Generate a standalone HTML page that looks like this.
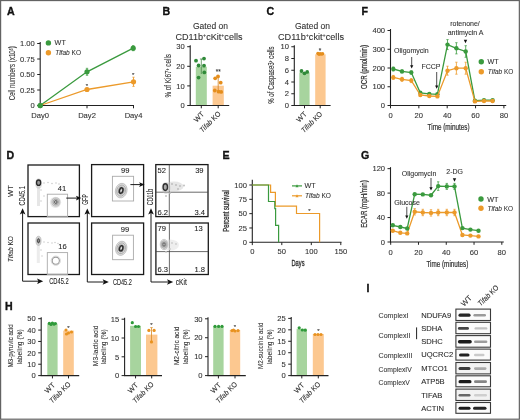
<!DOCTYPE html>
<html><head><meta charset="utf-8"><style>
html,body{margin:0;padding:0;background:#fff;}
#fig{position:relative;width:520px;height:420px;overflow:hidden;background:#fff;}
#fig svg{position:absolute;left:0;top:0;}
#plot{filter:blur(0.3px);}
text{font-family:"Liberation Sans",sans-serif;stroke:#2a2a2a;stroke-width:0.09px;}
</style></head><body><div id="fig">
<svg id="plot" width="520" height="420" viewBox="0 0 520 420">
<text x="6.9" y="15.3" font-size="10.6" text-anchor="start" fill="#111" font-weight="bold"  style="stroke:#111;stroke-width:0.35px">A</text>
<text x="162.6" y="15.3" font-size="10.6" text-anchor="start" fill="#111" font-weight="bold"  style="stroke:#111;stroke-width:0.35px">B</text>
<text x="266.6" y="15.3" font-size="10.6" text-anchor="start" fill="#111" font-weight="bold"  style="stroke:#111;stroke-width:0.35px">C</text>
<text x="361.6" y="15.3" font-size="10.6" text-anchor="start" fill="#111" font-weight="bold"  style="stroke:#111;stroke-width:0.35px">F</text>
<text x="6.4" y="158.6" font-size="10.6" text-anchor="start" fill="#111" font-weight="bold"  style="stroke:#111;stroke-width:0.35px">D</text>
<text x="222.4" y="158.8" font-size="10.6" text-anchor="start" fill="#111" font-weight="bold"  style="stroke:#111;stroke-width:0.35px">E</text>
<text x="361.1" y="158.8" font-size="10.6" text-anchor="start" fill="#111" font-weight="bold"  style="stroke:#111;stroke-width:0.35px">G</text>
<text x="5.0" y="309.6" font-size="10.6" text-anchor="start" fill="#111" font-weight="bold"  style="stroke:#111;stroke-width:0.35px">H</text>
<text x="366.4" y="292.0" font-size="10.6" text-anchor="start" fill="#111" font-weight="bold"  style="stroke:#111;stroke-width:0.35px">I</text>
<line x1="40.2" y1="42.0" x2="40.2" y2="106.0" stroke="#222" stroke-width="1.1" />
<line x1="37.2" y1="43.5" x2="40.2" y2="43.5" stroke="#222" stroke-width="1" />
<text x="34.800000000000004" y="46.236" font-size="7.6" text-anchor="end" fill="#333" font-weight="normal"  style="">1.00</text>
<line x1="37.2" y1="59.0" x2="40.2" y2="59.0" stroke="#222" stroke-width="1" />
<text x="34.800000000000004" y="61.736" font-size="7.6" text-anchor="end" fill="#333" font-weight="normal"  style="">0.75</text>
<line x1="37.2" y1="74.5" x2="40.2" y2="74.5" stroke="#222" stroke-width="1" />
<text x="34.800000000000004" y="77.236" font-size="7.6" text-anchor="end" fill="#333" font-weight="normal"  style="">0.50</text>
<line x1="37.2" y1="90.0" x2="40.2" y2="90.0" stroke="#222" stroke-width="1" />
<text x="34.800000000000004" y="92.736" font-size="7.6" text-anchor="end" fill="#333" font-weight="normal"  style="">0.25</text>
<line x1="37.2" y1="105.5" x2="40.2" y2="105.5" stroke="#222" stroke-width="1" />
<text x="34.800000000000004" y="108.236" font-size="7.6" text-anchor="end" fill="#333" font-weight="normal"  style="">0</text>
<line x1="39.7" y1="105.5" x2="134" y2="105.5" stroke="#222" stroke-width="1.1" />
<line x1="40.2" y1="105.5" x2="40.2" y2="108.3" stroke="#222" stroke-width="1" />
<text x="40.2" y="118.2" font-size="7.6" text-anchor="middle" fill="#333" font-weight="normal"  style="">Day0</text>
<line x1="87" y1="105.5" x2="87" y2="108.3" stroke="#222" stroke-width="1" />
<text x="87" y="118.2" font-size="7.6" text-anchor="middle" fill="#333" font-weight="normal"  style="">Day2</text>
<line x1="133.5" y1="105.5" x2="133.5" y2="108.3" stroke="#222" stroke-width="1" />
<text x="133.5" y="118.2" font-size="7.6" text-anchor="middle" fill="#333" font-weight="normal"  style="">Day4</text>
<text transform="translate(11.9,73.3) rotate(-90)" x="0" y="2.95" font-size="8.2" text-anchor="middle" fill="#333" textLength="54" lengthAdjust="spacingAndGlyphs" style="">Cell numbers (x10<tspan dy="-2" font-size="4.5">6</tspan><tspan dy="2">)</tspan></text>
<path d="M40.2,105.5 L87,71.8 L133.2,48.2" stroke="#3a9a3e" stroke-width="1.3" fill="none" />
<path d="M40.2,105.5 L87,89.5 L133.5,81.8" stroke="#ec9a2a" stroke-width="1.3" fill="none" />
<line x1="87" y1="68.3" x2="87" y2="75.3" stroke="#3a9a3e" stroke-width="0.9" />
<line x1="85.8" y1="68.3" x2="88.2" y2="68.3" stroke="#3a9a3e" stroke-width="0.7" />
<line x1="85.8" y1="75.3" x2="88.2" y2="75.3" stroke="#3a9a3e" stroke-width="0.7" />
<line x1="133.2" y1="45.7" x2="133.2" y2="50.7" stroke="#3a9a3e" stroke-width="0.9" />
<line x1="132.0" y1="45.7" x2="134.39999999999998" y2="45.7" stroke="#3a9a3e" stroke-width="0.7" />
<line x1="132.0" y1="50.7" x2="134.39999999999998" y2="50.7" stroke="#3a9a3e" stroke-width="0.7" />
<line x1="87" y1="88.0" x2="87" y2="91.0" stroke="#ec9a2a" stroke-width="0.9" />
<line x1="85.8" y1="88.0" x2="88.2" y2="88.0" stroke="#ec9a2a" stroke-width="0.7" />
<line x1="85.8" y1="91.0" x2="88.2" y2="91.0" stroke="#ec9a2a" stroke-width="0.7" />
<line x1="133.5" y1="77.2" x2="133.5" y2="86.39999999999999" stroke="#ec9a2a" stroke-width="0.9" />
<line x1="132.3" y1="77.2" x2="134.7" y2="77.2" stroke="#ec9a2a" stroke-width="0.7" />
<line x1="132.3" y1="86.39999999999999" x2="134.7" y2="86.39999999999999" stroke="#ec9a2a" stroke-width="0.7" />
<circle cx="40.20" cy="105.50" r="2.6" fill="#3a9a3e"/>
<circle cx="87.00" cy="71.80" r="2.6" fill="#3a9a3e"/>
<circle cx="133.20" cy="48.20" r="2.6" fill="#3a9a3e"/>
<circle cx="87.00" cy="89.50" r="2.6" fill="#ec9a2a"/>
<circle cx="133.50" cy="81.80" r="2.6" fill="#ec9a2a"/>
<circle cx="40.20" cy="105.50" r="2.6" fill="#3a9a3e"/>
<text x="87" y="88.1" font-size="6" text-anchor="middle" fill="#333" font-weight="normal"  style="">*</text>
<text x="133.2" y="76.9" font-size="6" text-anchor="middle" fill="#333" font-weight="normal"  style="">*</text>
<circle cx="48.40" cy="42.90" r="2.7" fill="#3a9a3e"/>
<text x="54.6" y="45.3" font-size="7.2" text-anchor="start" fill="#333" font-weight="normal"  style="">WT</text>
<circle cx="48.40" cy="52.70" r="2.7" fill="#ec9a2a"/>
<text x="55.2" y="54.9" font-size="7.2" text-anchor="start" fill="#333" font-weight="normal" textLength="25.8" lengthAdjust="spacingAndGlyphs"  style=""><tspan font-style="italic">Tifab</tspan> KO</text>
<text x="210.5" y="28.6" font-size="8.5" text-anchor="middle" fill="#333" font-weight="normal"  style="">Gated on</text>
<text x="209" y="39.6" font-size="8.5" text-anchor="middle" fill="#333" font-weight="normal" textLength="67" lengthAdjust="spacingAndGlyphs"  style="">CD11b<tspan dy="-2.5" font-size="5">+</tspan><tspan dy="2.5">cKit</tspan><tspan dy="-2.5" font-size="5">+</tspan><tspan dy="2.5">cells</tspan></text>
<line x1="190.2" y1="45.2" x2="190.2" y2="106.0" stroke="#222" stroke-width="1.1" />
<line x1="187.2" y1="46.7" x2="190.2" y2="46.7" stroke="#222" stroke-width="1" />
<text x="184.79999999999998" y="49.436" font-size="7.6" text-anchor="end" fill="#333" font-weight="normal"  style="">30</text>
<line x1="187.2" y1="66.3" x2="190.2" y2="66.3" stroke="#222" stroke-width="1" />
<text x="184.79999999999998" y="69.036" font-size="7.6" text-anchor="end" fill="#333" font-weight="normal"  style="">20</text>
<line x1="187.2" y1="85.9" x2="190.2" y2="85.9" stroke="#222" stroke-width="1" />
<text x="184.79999999999998" y="88.63600000000001" font-size="7.6" text-anchor="end" fill="#333" font-weight="normal"  style="">10</text>
<line x1="187.2" y1="105.5" x2="190.2" y2="105.5" stroke="#222" stroke-width="1" />
<text x="184.79999999999998" y="108.236" font-size="7.6" text-anchor="end" fill="#333" font-weight="normal"  style="">0</text>
<rect x="195.8" y="66.7" width="11" height="38.8" fill="#a7d49e"/>
<rect x="212.6" y="85.7" width="11.2" height="19.799999999999997" fill="#fcc890"/>
<line x1="189.7" y1="105.5" x2="229.2" y2="105.5" stroke="#222" stroke-width="1.1" />
<line x1="201.3" y1="105.5" x2="201.3" y2="108.3" stroke="#222" stroke-width="1" />
<line x1="218.2" y1="105.5" x2="218.2" y2="108.3" stroke="#222" stroke-width="1" />
<line x1="201.3" y1="59" x2="201.3" y2="74" stroke="#4a8a4a" stroke-width="0.8" />
<line x1="199.9" y1="59" x2="202.7" y2="59" stroke="#4a8a4a" stroke-width="0.8" />
<circle cx="196.00" cy="60.70" r="1.9" fill="#2f8a38"/>
<circle cx="204.00" cy="58.60" r="1.9" fill="#2f8a38"/>
<circle cx="198.60" cy="65.50" r="1.9" fill="#2f8a38"/>
<circle cx="204.00" cy="65.70" r="1.9" fill="#2f8a38"/>
<circle cx="204.30" cy="72.40" r="1.9" fill="#2f8a38"/>
<circle cx="198.60" cy="77.60" r="1.9" fill="#2f8a38"/>
<line x1="218.2" y1="77" x2="218.2" y2="92" stroke="#d08020" stroke-width="0.8" />
<circle cx="215.20" cy="78.30" r="1.9" fill="#e58e1c"/>
<circle cx="218.00" cy="76.40" r="1.9" fill="#e58e1c"/>
<circle cx="220.70" cy="82.70" r="1.9" fill="#e58e1c"/>
<circle cx="214.80" cy="90.50" r="1.9" fill="#e58e1c"/>
<circle cx="218.60" cy="91.70" r="1.9" fill="#e58e1c"/>
<circle cx="221.20" cy="91.90" r="1.9" fill="#e58e1c"/>
<text x="218.3" y="74.2" font-size="6.5" text-anchor="middle" fill="#333" font-weight="normal"  style="">**</text>
<text transform="translate(204.70000000000002,114.7) rotate(-45)" font-size="7.3" text-anchor="end" fill="#2a2a2a">WT</text>
<text transform="translate(221.2,114.3) rotate(-45)" font-size="7.3" text-anchor="end" fill="#2a2a2a" textLength="26.5" lengthAdjust="spacingAndGlyphs"><tspan font-style="italic">Tifab</tspan> KO</text>
<text transform="translate(168.4,75.8) rotate(-90)" x="0" y="2.95" font-size="8.2" text-anchor="middle" fill="#333" textLength="43.5" lengthAdjust="spacingAndGlyphs" style="">% of Ki67<tspan dy="-2" font-size="4.5">+</tspan><tspan dy="2"> cells</tspan></text>
<text x="312.5" y="28.6" font-size="8.5" text-anchor="middle" fill="#333" font-weight="normal"  style="">Gated on</text>
<text x="311" y="39.6" font-size="8.5" text-anchor="middle" fill="#333" font-weight="normal" textLength="66" lengthAdjust="spacingAndGlyphs"  style="">CD11b<tspan dy="-2.5" font-size="5">+</tspan><tspan dy="2.5">ckit</tspan><tspan dy="-2.5" font-size="5">+</tspan><tspan dy="2.5">cells</tspan></text>
<line x1="294.3" y1="45.25" x2="294.3" y2="106.0" stroke="#222" stroke-width="1.1" />
<line x1="291.3" y1="46.75" x2="294.3" y2="46.75" stroke="#222" stroke-width="1" />
<text x="288.90000000000003" y="49.486" font-size="7.6" text-anchor="end" fill="#333" font-weight="normal"  style="">10</text>
<line x1="291.3" y1="58.5" x2="294.3" y2="58.5" stroke="#222" stroke-width="1" />
<text x="288.90000000000003" y="61.236" font-size="7.6" text-anchor="end" fill="#333" font-weight="normal"  style="">8</text>
<line x1="291.3" y1="70.25" x2="294.3" y2="70.25" stroke="#222" stroke-width="1" />
<text x="288.90000000000003" y="72.986" font-size="7.6" text-anchor="end" fill="#333" font-weight="normal"  style="">6</text>
<line x1="291.3" y1="82.0" x2="294.3" y2="82.0" stroke="#222" stroke-width="1" />
<text x="288.90000000000003" y="84.736" font-size="7.6" text-anchor="end" fill="#333" font-weight="normal"  style="">4</text>
<line x1="291.3" y1="93.75" x2="294.3" y2="93.75" stroke="#222" stroke-width="1" />
<text x="288.90000000000003" y="96.486" font-size="7.6" text-anchor="end" fill="#333" font-weight="normal"  style="">2</text>
<line x1="291.3" y1="105.5" x2="294.3" y2="105.5" stroke="#222" stroke-width="1" />
<text x="288.90000000000003" y="108.236" font-size="7.6" text-anchor="end" fill="#333" font-weight="normal"  style="">0</text>
<rect x="299.3" y="72.4" width="10.3" height="33.099999999999994" fill="#a7d49e"/>
<rect x="315.2" y="54.3" width="10.4" height="51.2" fill="#fcc890"/>
<line x1="293.8" y1="105.5" x2="330.6" y2="105.5" stroke="#222" stroke-width="1.1" />
<line x1="304.5" y1="105.5" x2="304.5" y2="108.3" stroke="#222" stroke-width="1" />
<line x1="320.2" y1="105.5" x2="320.2" y2="108.3" stroke="#222" stroke-width="1" />
<circle cx="301.50" cy="71.00" r="1.9" fill="#2f8a38"/>
<circle cx="307.20" cy="71.90" r="1.9" fill="#2f8a38"/>
<circle cx="304.50" cy="73.30" r="1.9" fill="#2f8a38"/>
<circle cx="317.90" cy="53.40" r="1.7" fill="#e58e1c"/>
<circle cx="320.20" cy="53.80" r="1.7" fill="#e58e1c"/>
<circle cx="322.60" cy="53.80" r="1.7" fill="#e58e1c"/>
<circle cx="319.00" cy="54.30" r="1.7" fill="#e58e1c"/>
<circle cx="321.50" cy="54.10" r="1.7" fill="#e58e1c"/>
<text x="320.1" y="52.7" font-size="6.5" text-anchor="middle" fill="#333" font-weight="normal"  style="">*</text>
<text transform="translate(307.3,114.7) rotate(-45)" font-size="7.3" text-anchor="end" fill="#2a2a2a">WT</text>
<text transform="translate(322.8,114.5) rotate(-45)" font-size="7.3" text-anchor="end" fill="#2a2a2a" textLength="26.5" lengthAdjust="spacingAndGlyphs"><tspan font-style="italic">Tifab</tspan> KO</text>
<text transform="translate(271.5,75.1) rotate(-90)" x="0" y="2.95" font-size="8.2" text-anchor="middle" fill="#333" textLength="57.4" lengthAdjust="spacingAndGlyphs" style="">% of Caspase3<tspan dy="-2" font-size="4.5">+</tspan><tspan dy="2"> cells</tspan></text>
<line x1="390.5" y1="29.0" x2="390.5" y2="106.0" stroke="#222" stroke-width="1.1" />
<line x1="387.5" y1="30.5" x2="390.5" y2="30.5" stroke="#222" stroke-width="1" />
<text x="385.1" y="33.236" font-size="7.6" text-anchor="end" fill="#333" font-weight="normal"  style="">400</text>
<line x1="387.5" y1="49.25" x2="390.5" y2="49.25" stroke="#222" stroke-width="1" />
<text x="385.1" y="51.986" font-size="7.6" text-anchor="end" fill="#333" font-weight="normal"  style="">300</text>
<line x1="387.5" y1="68.0" x2="390.5" y2="68.0" stroke="#222" stroke-width="1" />
<text x="385.1" y="70.736" font-size="7.6" text-anchor="end" fill="#333" font-weight="normal"  style="">200</text>
<line x1="387.5" y1="86.75" x2="390.5" y2="86.75" stroke="#222" stroke-width="1" />
<text x="385.1" y="89.486" font-size="7.6" text-anchor="end" fill="#333" font-weight="normal"  style="">100</text>
<line x1="387.5" y1="105.5" x2="390.5" y2="105.5" stroke="#222" stroke-width="1" />
<text x="385.1" y="108.236" font-size="7.6" text-anchor="end" fill="#333" font-weight="normal"  style="">0</text>
<line x1="390.0" y1="105.5" x2="506.2" y2="105.5" stroke="#222" stroke-width="1.1" />
<line x1="390.5" y1="105.5" x2="390.5" y2="108.3" stroke="#222" stroke-width="1" />
<text x="390.5" y="117.8" font-size="7.6" text-anchor="middle" fill="#333" font-weight="normal"  style="">0</text>
<line x1="418.85" y1="105.5" x2="418.85" y2="108.3" stroke="#222" stroke-width="1" />
<text x="418.85" y="117.8" font-size="7.6" text-anchor="middle" fill="#333" font-weight="normal"  style="">20</text>
<line x1="447.2" y1="105.5" x2="447.2" y2="108.3" stroke="#222" stroke-width="1" />
<text x="447.2" y="117.8" font-size="7.6" text-anchor="middle" fill="#333" font-weight="normal"  style="">40</text>
<line x1="475.55" y1="105.5" x2="475.55" y2="108.3" stroke="#222" stroke-width="1" />
<text x="475.55" y="117.8" font-size="7.6" text-anchor="middle" fill="#333" font-weight="normal"  style="">60</text>
<line x1="503.9" y1="105.5" x2="503.9" y2="108.3" stroke="#222" stroke-width="1" />
<text x="503.9" y="117.8" font-size="7.6" text-anchor="middle" fill="#333" font-weight="normal"  style="">80</text>
<text x="448.6" y="130.4" font-size="8.2" text-anchor="middle" fill="#333" font-weight="normal" textLength="42" lengthAdjust="spacingAndGlyphs"  style="stroke-width:0.2px">Time (minutes)</text>
<text transform="translate(364.3,67) rotate(-90)" x="0" y="2.95" font-size="8.2" text-anchor="middle" fill="#333" textLength="44" lengthAdjust="spacingAndGlyphs" style="stroke-width:0.2px">OCR (pmol/min)</text>
<path d="M393.3,69 L402,71.4 L411.3,72.5 L420.3,92.8 L429.3,93.9 L437.4,94.3 L447.5,44.6 L456.4,48.3 L465.7,51.5 L474.9,100.7 L484,100.2 L492.6,100.2" stroke="#3a9a3e" stroke-width="1.3" fill="none" />
<line x1="393.3" y1="67" x2="393.3" y2="71" stroke="#3a9a3e" stroke-width="0.8" />
<line x1="392.1" y1="67" x2="394.5" y2="67" stroke="#3a9a3e" stroke-width="0.7" />
<line x1="392.1" y1="71" x2="394.5" y2="71" stroke="#3a9a3e" stroke-width="0.7" />
<circle cx="393.30" cy="69.00" r="2.2" fill="#3a9a3e"/>
<line x1="402" y1="69.9" x2="402" y2="72.9" stroke="#3a9a3e" stroke-width="0.8" />
<line x1="400.8" y1="69.9" x2="403.2" y2="69.9" stroke="#3a9a3e" stroke-width="0.7" />
<line x1="400.8" y1="72.9" x2="403.2" y2="72.9" stroke="#3a9a3e" stroke-width="0.7" />
<circle cx="402.00" cy="71.40" r="2.2" fill="#3a9a3e"/>
<line x1="411.3" y1="71.0" x2="411.3" y2="74.0" stroke="#3a9a3e" stroke-width="0.8" />
<line x1="410.1" y1="71.0" x2="412.5" y2="71.0" stroke="#3a9a3e" stroke-width="0.7" />
<line x1="410.1" y1="74.0" x2="412.5" y2="74.0" stroke="#3a9a3e" stroke-width="0.7" />
<circle cx="411.30" cy="72.50" r="2.2" fill="#3a9a3e"/>
<circle cx="420.30" cy="92.80" r="2.2" fill="#3a9a3e"/>
<circle cx="429.30" cy="93.90" r="2.2" fill="#3a9a3e"/>
<circle cx="437.40" cy="94.30" r="2.2" fill="#3a9a3e"/>
<line x1="447.5" y1="39.6" x2="447.5" y2="49.6" stroke="#3a9a3e" stroke-width="0.8" />
<line x1="446.3" y1="39.6" x2="448.7" y2="39.6" stroke="#3a9a3e" stroke-width="0.7" />
<line x1="446.3" y1="49.6" x2="448.7" y2="49.6" stroke="#3a9a3e" stroke-width="0.7" />
<circle cx="447.50" cy="44.60" r="2.2" fill="#3a9a3e"/>
<line x1="456.4" y1="42.699999999999996" x2="456.4" y2="53.9" stroke="#3a9a3e" stroke-width="0.8" />
<line x1="455.2" y1="42.699999999999996" x2="457.59999999999997" y2="42.699999999999996" stroke="#3a9a3e" stroke-width="0.7" />
<line x1="455.2" y1="53.9" x2="457.59999999999997" y2="53.9" stroke="#3a9a3e" stroke-width="0.7" />
<circle cx="456.40" cy="48.30" r="2.2" fill="#3a9a3e"/>
<line x1="465.7" y1="45.7" x2="465.7" y2="57.3" stroke="#3a9a3e" stroke-width="0.8" />
<line x1="464.5" y1="45.7" x2="466.9" y2="45.7" stroke="#3a9a3e" stroke-width="0.7" />
<line x1="464.5" y1="57.3" x2="466.9" y2="57.3" stroke="#3a9a3e" stroke-width="0.7" />
<circle cx="465.70" cy="51.50" r="2.2" fill="#3a9a3e"/>
<circle cx="474.90" cy="100.70" r="2.2" fill="#3a9a3e"/>
<circle cx="484.00" cy="100.20" r="2.2" fill="#3a9a3e"/>
<circle cx="492.60" cy="100.20" r="2.2" fill="#3a9a3e"/>
<path d="M393.3,77.4 L402,79.3 L411.3,80.6 L420.3,95 L429.3,96 L437.4,96.4 L447.5,70.7 L456.4,68.2 L465.7,68.2 L474.9,101.4 L484,101 L492.6,101" stroke="#ec9a2a" stroke-width="1.3" fill="none" />
<line x1="393.3" y1="75.4" x2="393.3" y2="79.4" stroke="#ec9a2a" stroke-width="0.8" />
<line x1="392.1" y1="75.4" x2="394.5" y2="75.4" stroke="#ec9a2a" stroke-width="0.7" />
<line x1="392.1" y1="79.4" x2="394.5" y2="79.4" stroke="#ec9a2a" stroke-width="0.7" />
<circle cx="393.30" cy="77.40" r="2.2" fill="#ec9a2a"/>
<line x1="402" y1="77.3" x2="402" y2="81.3" stroke="#ec9a2a" stroke-width="0.8" />
<line x1="400.8" y1="77.3" x2="403.2" y2="77.3" stroke="#ec9a2a" stroke-width="0.7" />
<line x1="400.8" y1="81.3" x2="403.2" y2="81.3" stroke="#ec9a2a" stroke-width="0.7" />
<circle cx="402.00" cy="79.30" r="2.2" fill="#ec9a2a"/>
<line x1="411.3" y1="78.6" x2="411.3" y2="82.6" stroke="#ec9a2a" stroke-width="0.8" />
<line x1="410.1" y1="78.6" x2="412.5" y2="78.6" stroke="#ec9a2a" stroke-width="0.7" />
<line x1="410.1" y1="82.6" x2="412.5" y2="82.6" stroke="#ec9a2a" stroke-width="0.7" />
<circle cx="411.30" cy="80.60" r="2.2" fill="#ec9a2a"/>
<circle cx="420.30" cy="95.00" r="2.2" fill="#ec9a2a"/>
<circle cx="429.30" cy="96.00" r="2.2" fill="#ec9a2a"/>
<circle cx="437.40" cy="96.40" r="2.2" fill="#ec9a2a"/>
<line x1="447.5" y1="66.2" x2="447.5" y2="75.2" stroke="#ec9a2a" stroke-width="0.8" />
<line x1="446.3" y1="66.2" x2="448.7" y2="66.2" stroke="#ec9a2a" stroke-width="0.7" />
<line x1="446.3" y1="75.2" x2="448.7" y2="75.2" stroke="#ec9a2a" stroke-width="0.7" />
<circle cx="447.50" cy="70.70" r="2.2" fill="#ec9a2a"/>
<line x1="456.4" y1="62.2" x2="456.4" y2="74.2" stroke="#ec9a2a" stroke-width="0.8" />
<line x1="455.2" y1="62.2" x2="457.59999999999997" y2="62.2" stroke="#ec9a2a" stroke-width="0.7" />
<line x1="455.2" y1="74.2" x2="457.59999999999997" y2="74.2" stroke="#ec9a2a" stroke-width="0.7" />
<circle cx="456.40" cy="68.20" r="2.2" fill="#ec9a2a"/>
<line x1="465.7" y1="62.2" x2="465.7" y2="74.2" stroke="#ec9a2a" stroke-width="0.8" />
<line x1="464.5" y1="62.2" x2="466.9" y2="62.2" stroke="#ec9a2a" stroke-width="0.7" />
<line x1="464.5" y1="74.2" x2="466.9" y2="74.2" stroke="#ec9a2a" stroke-width="0.7" />
<circle cx="465.70" cy="68.20" r="2.2" fill="#ec9a2a"/>
<circle cx="474.90" cy="101.40" r="2.2" fill="#ec9a2a"/>
<circle cx="484.00" cy="101.00" r="2.2" fill="#ec9a2a"/>
<circle cx="492.60" cy="101.00" r="2.2" fill="#ec9a2a"/>
<text x="411.4" y="52.6" font-size="7" text-anchor="middle" fill="#333" font-weight="normal"  style="">Oligomycin</text>
<line x1="411.7" y1="57" x2="411.7" y2="66.0" stroke="#222" stroke-width="0.8" />
<path d="M410.09999999999997,65.3 L413.3,65.3 L411.7,68.5 Z" stroke="none" stroke-width="1" fill="#111" />
<text x="431" y="68.6" font-size="7" text-anchor="middle" fill="#333" font-weight="normal"  style="">FCCP</text>
<line x1="436.7" y1="72" x2="436.7" y2="86.3" stroke="#222" stroke-width="0.8" />
<path d="M435.09999999999997,85.6 L438.3,85.6 L436.7,88.8 Z" stroke="none" stroke-width="1" fill="#111" />
<text x="465" y="25.6" font-size="7" text-anchor="middle" fill="#333" font-weight="normal"  style="">rotenone/</text>
<text x="465.6" y="34.7" font-size="7" text-anchor="middle" fill="#333" font-weight="normal"  style="">antimycin A</text>
<path d="M463.8,39.8 L467.2,39.8 L465.5,43.2 Z" stroke="none" stroke-width="1" fill="#111" />
<circle cx="481.30" cy="61.70" r="2.7" fill="#3a9a3e"/>
<text x="487.5" y="64.3" font-size="7.2" text-anchor="start" fill="#333" font-weight="normal"  style="">WT</text>
<circle cx="481.30" cy="71.70" r="2.7" fill="#ec9a2a"/>
<text x="487.8" y="74.3" font-size="7.2" text-anchor="start" fill="#333" font-weight="normal" textLength="25.6" lengthAdjust="spacingAndGlyphs"  style=""><tspan font-style="italic">Tifab</tspan> KO</text>
<line x1="390.5" y1="167.144" x2="390.5" y2="242.5" stroke="#222" stroke-width="1.1" />
<line x1="387.5" y1="168.644" x2="390.5" y2="168.644" stroke="#222" stroke-width="1" />
<text x="385.1" y="171.38" font-size="7.6" text-anchor="end" fill="#333" font-weight="normal"  style="">120</text>
<line x1="387.5" y1="193.096" x2="390.5" y2="193.096" stroke="#222" stroke-width="1" />
<text x="385.1" y="195.832" font-size="7.6" text-anchor="end" fill="#333" font-weight="normal"  style="">80</text>
<line x1="387.5" y1="217.548" x2="390.5" y2="217.548" stroke="#222" stroke-width="1" />
<text x="385.1" y="220.284" font-size="7.6" text-anchor="end" fill="#333" font-weight="normal"  style="">40</text>
<line x1="387.5" y1="242.0" x2="390.5" y2="242.0" stroke="#222" stroke-width="1" />
<text x="385.1" y="244.736" font-size="7.6" text-anchor="end" fill="#333" font-weight="normal"  style="">0</text>
<line x1="390.0" y1="242.0" x2="503.8" y2="242.0" stroke="#222" stroke-width="1.1" />
<line x1="390.7" y1="242.0" x2="390.7" y2="244.8" stroke="#222" stroke-width="1" />
<text x="390.7" y="255.2" font-size="7.6" text-anchor="middle" fill="#333" font-weight="normal"  style="">0</text>
<line x1="418.48" y1="242.0" x2="418.48" y2="244.8" stroke="#222" stroke-width="1" />
<text x="418.48" y="255.2" font-size="7.6" text-anchor="middle" fill="#333" font-weight="normal"  style="">20</text>
<line x1="446.26" y1="242.0" x2="446.26" y2="244.8" stroke="#222" stroke-width="1" />
<text x="446.26" y="255.2" font-size="7.6" text-anchor="middle" fill="#333" font-weight="normal"  style="">40</text>
<line x1="474.03999999999996" y1="242.0" x2="474.03999999999996" y2="244.8" stroke="#222" stroke-width="1" />
<text x="474.03999999999996" y="255.2" font-size="7.6" text-anchor="middle" fill="#333" font-weight="normal"  style="">60</text>
<line x1="501.82" y1="242.0" x2="501.82" y2="244.8" stroke="#222" stroke-width="1" />
<text x="501.82" y="255.2" font-size="7.6" text-anchor="middle" fill="#333" font-weight="normal"  style="">80</text>
<text x="447.4" y="266.8" font-size="8.2" text-anchor="middle" fill="#333" font-weight="normal" textLength="42" lengthAdjust="spacingAndGlyphs"  style="stroke-width:0.2px">Time (minutes)</text>
<text transform="translate(364.3,204) rotate(-90)" x="0" y="2.95" font-size="8.2" text-anchor="middle" fill="#333" textLength="47.5" lengthAdjust="spacingAndGlyphs" style="stroke-width:0.2px">ECAR (mpH/min)</text>
<path d="M392.8,230.7 L400.3,232.8 L407.2,233.4 L414.7,211.8 L422.8,212.5 L431,212.9 L438.2,212.5 L446.8,212.5 L454.5,212.5 L462.4,235 L470.4,235.6 L478.5,236.4" stroke="#ec9a2a" stroke-width="1.3" fill="none" />
<circle cx="392.80" cy="230.70" r="2.2" fill="#ec9a2a"/>
<circle cx="400.30" cy="232.80" r="2.2" fill="#ec9a2a"/>
<circle cx="407.20" cy="233.40" r="2.2" fill="#ec9a2a"/>
<line x1="414.7" y1="208.60000000000002" x2="414.7" y2="215.0" stroke="#ec9a2a" stroke-width="0.8" />
<line x1="413.5" y1="208.60000000000002" x2="415.9" y2="208.60000000000002" stroke="#ec9a2a" stroke-width="0.7" />
<line x1="413.5" y1="215.0" x2="415.9" y2="215.0" stroke="#ec9a2a" stroke-width="0.7" />
<circle cx="414.70" cy="211.80" r="2.2" fill="#ec9a2a"/>
<line x1="422.8" y1="209.3" x2="422.8" y2="215.7" stroke="#ec9a2a" stroke-width="0.8" />
<line x1="421.6" y1="209.3" x2="424.0" y2="209.3" stroke="#ec9a2a" stroke-width="0.7" />
<line x1="421.6" y1="215.7" x2="424.0" y2="215.7" stroke="#ec9a2a" stroke-width="0.7" />
<circle cx="422.80" cy="212.50" r="2.2" fill="#ec9a2a"/>
<line x1="431" y1="209.70000000000002" x2="431" y2="216.1" stroke="#ec9a2a" stroke-width="0.8" />
<line x1="429.8" y1="209.70000000000002" x2="432.2" y2="209.70000000000002" stroke="#ec9a2a" stroke-width="0.7" />
<line x1="429.8" y1="216.1" x2="432.2" y2="216.1" stroke="#ec9a2a" stroke-width="0.7" />
<circle cx="431.00" cy="212.90" r="2.2" fill="#ec9a2a"/>
<line x1="438.2" y1="209.3" x2="438.2" y2="215.7" stroke="#ec9a2a" stroke-width="0.8" />
<line x1="437.0" y1="209.3" x2="439.4" y2="209.3" stroke="#ec9a2a" stroke-width="0.7" />
<line x1="437.0" y1="215.7" x2="439.4" y2="215.7" stroke="#ec9a2a" stroke-width="0.7" />
<circle cx="438.20" cy="212.50" r="2.2" fill="#ec9a2a"/>
<line x1="446.8" y1="209.3" x2="446.8" y2="215.7" stroke="#ec9a2a" stroke-width="0.8" />
<line x1="445.6" y1="209.3" x2="448.0" y2="209.3" stroke="#ec9a2a" stroke-width="0.7" />
<line x1="445.6" y1="215.7" x2="448.0" y2="215.7" stroke="#ec9a2a" stroke-width="0.7" />
<circle cx="446.80" cy="212.50" r="2.2" fill="#ec9a2a"/>
<line x1="454.5" y1="209.3" x2="454.5" y2="215.7" stroke="#ec9a2a" stroke-width="0.8" />
<line x1="453.3" y1="209.3" x2="455.7" y2="209.3" stroke="#ec9a2a" stroke-width="0.7" />
<line x1="453.3" y1="215.7" x2="455.7" y2="215.7" stroke="#ec9a2a" stroke-width="0.7" />
<circle cx="454.50" cy="212.50" r="2.2" fill="#ec9a2a"/>
<circle cx="462.40" cy="235.00" r="2.2" fill="#ec9a2a"/>
<circle cx="470.40" cy="235.60" r="2.2" fill="#ec9a2a"/>
<circle cx="478.50" cy="236.40" r="2.2" fill="#ec9a2a"/>
<path d="M392.8,225.3 L400.3,227 L407.2,228.5 L414.7,194.2 L422.8,194.4 L431,195.2 L438.2,186.1 L446.8,186.4 L454.5,186.4 L462.4,228.1 L470.4,229.6 L478.5,230.7" stroke="#3a9a3e" stroke-width="1.3" fill="none" />
<circle cx="392.80" cy="225.30" r="2.2" fill="#3a9a3e"/>
<circle cx="400.30" cy="227.00" r="2.2" fill="#3a9a3e"/>
<circle cx="407.20" cy="228.50" r="2.2" fill="#3a9a3e"/>
<circle cx="414.70" cy="194.20" r="2.2" fill="#3a9a3e"/>
<circle cx="422.80" cy="194.40" r="2.2" fill="#3a9a3e"/>
<circle cx="431.00" cy="195.20" r="2.2" fill="#3a9a3e"/>
<line x1="438.2" y1="181.79999999999998" x2="438.2" y2="190.4" stroke="#3a9a3e" stroke-width="0.8" />
<line x1="437.0" y1="181.79999999999998" x2="439.4" y2="181.79999999999998" stroke="#3a9a3e" stroke-width="0.7" />
<line x1="437.0" y1="190.4" x2="439.4" y2="190.4" stroke="#3a9a3e" stroke-width="0.7" />
<circle cx="438.20" cy="186.10" r="2.2" fill="#3a9a3e"/>
<line x1="446.8" y1="183.4" x2="446.8" y2="189.4" stroke="#3a9a3e" stroke-width="0.8" />
<line x1="445.6" y1="183.4" x2="448.0" y2="183.4" stroke="#3a9a3e" stroke-width="0.7" />
<line x1="445.6" y1="189.4" x2="448.0" y2="189.4" stroke="#3a9a3e" stroke-width="0.7" />
<circle cx="446.80" cy="186.40" r="2.2" fill="#3a9a3e"/>
<line x1="454.5" y1="183.4" x2="454.5" y2="189.4" stroke="#3a9a3e" stroke-width="0.8" />
<line x1="453.3" y1="183.4" x2="455.7" y2="183.4" stroke="#3a9a3e" stroke-width="0.7" />
<line x1="453.3" y1="189.4" x2="455.7" y2="189.4" stroke="#3a9a3e" stroke-width="0.7" />
<circle cx="454.50" cy="186.40" r="2.2" fill="#3a9a3e"/>
<circle cx="462.40" cy="228.10" r="2.2" fill="#3a9a3e"/>
<circle cx="470.40" cy="229.60" r="2.2" fill="#3a9a3e"/>
<circle cx="478.50" cy="230.70" r="2.2" fill="#3a9a3e"/>
<text x="407" y="205" font-size="7" text-anchor="middle" fill="#333" font-weight="normal"  style="">Glucose</text>
<line x1="406.8" y1="206.8" x2="406.8" y2="216.3" stroke="#222" stroke-width="0.8" />
<path d="M405.2,215.60000000000002 L408.40000000000003,215.60000000000002 L406.8,218.8 Z" stroke="none" stroke-width="1" fill="#111" />
<text x="419" y="176.4" font-size="7" text-anchor="middle" fill="#333" font-weight="normal"  style="">Oligomycin</text>
<line x1="431" y1="178" x2="431" y2="188.0" stroke="#222" stroke-width="0.8" />
<path d="M429.4,187.3 L432.6,187.3 L431,190.5 Z" stroke="none" stroke-width="1" fill="#111" />
<text x="454.7" y="173.7" font-size="7" text-anchor="middle" fill="#333" font-weight="normal"  style="">2-DG</text>
<path d="M452.8,178.2 L456.2,178.2 L454.5,181.8 Z" stroke="none" stroke-width="1" fill="#111" />
<circle cx="481.00" cy="199.00" r="2.7" fill="#3a9a3e"/>
<text x="487.2" y="201.6" font-size="7.2" text-anchor="start" fill="#333" font-weight="normal"  style="">WT</text>
<circle cx="481.00" cy="208.30" r="2.7" fill="#ec9a2a"/>
<text x="487.5" y="210.9" font-size="7.2" text-anchor="start" fill="#333" font-weight="normal" textLength="25.6" lengthAdjust="spacingAndGlyphs"  style=""><tspan font-style="italic">Tifab</tspan> KO</text>
<line x1="252.3" y1="179.8" x2="252.3" y2="242.8" stroke="#222" stroke-width="1.1" />
<line x1="249.3" y1="185.0" x2="252.3" y2="185.0" stroke="#222" stroke-width="1" />
<text x="246.9" y="187.736" font-size="7.6" text-anchor="end" fill="#333" font-weight="normal"  style="">100</text>
<line x1="249.3" y1="199.32500000000002" x2="252.3" y2="199.32500000000002" stroke="#222" stroke-width="1" />
<text x="246.9" y="202.061" font-size="7.6" text-anchor="end" fill="#333" font-weight="normal"  style="">75</text>
<line x1="249.3" y1="213.65" x2="252.3" y2="213.65" stroke="#222" stroke-width="1" />
<text x="246.9" y="216.386" font-size="7.6" text-anchor="end" fill="#333" font-weight="normal"  style="">50</text>
<line x1="249.3" y1="227.97500000000002" x2="252.3" y2="227.97500000000002" stroke="#222" stroke-width="1" />
<text x="246.9" y="230.711" font-size="7.6" text-anchor="end" fill="#333" font-weight="normal"  style="">25</text>
<line x1="249.3" y1="242.3" x2="252.3" y2="242.3" stroke="#222" stroke-width="1" />
<text x="246.9" y="245.036" font-size="7.6" text-anchor="end" fill="#333" font-weight="normal"  style="">0</text>
<line x1="251.8" y1="242.3" x2="341.5" y2="242.3" stroke="#222" stroke-width="1.1" />
<line x1="252.3" y1="242.3" x2="252.3" y2="245.10000000000002" stroke="#222" stroke-width="1" />
<text x="252.3" y="254.3" font-size="7.6" text-anchor="middle" fill="#333" font-weight="normal"  style="">0</text>
<line x1="281.8" y1="242.3" x2="281.8" y2="245.10000000000002" stroke="#222" stroke-width="1" />
<text x="281.8" y="254.3" font-size="7.6" text-anchor="middle" fill="#333" font-weight="normal"  style="">50</text>
<line x1="311.3" y1="242.3" x2="311.3" y2="245.10000000000002" stroke="#222" stroke-width="1" />
<text x="311.3" y="254.3" font-size="7.6" text-anchor="middle" fill="#333" font-weight="normal"  style="">100</text>
<line x1="340.8" y1="242.3" x2="340.8" y2="245.10000000000002" stroke="#222" stroke-width="1" />
<text x="340.8" y="254.3" font-size="7.6" text-anchor="middle" fill="#333" font-weight="normal"  style="">150</text>
<text x="298" y="266.2" font-size="8.2" text-anchor="middle" fill="#333" font-weight="normal" textLength="13" lengthAdjust="spacingAndGlyphs"  style="stroke-width:0.3px">Days</text>
<text transform="translate(225.8,211) rotate(-90)" x="0" y="2.95" font-size="8.2" text-anchor="middle" fill="#333" textLength="41.5" lengthAdjust="spacingAndGlyphs" style="stroke-width:0.3px">Percent survival</text>
<path d="M252.3,185.0 H270.6 V192.3 H275.4 V206.2 H296.5 V213.5 H319.6 V242.3" stroke="#ec9a2a" stroke-width="1.2" fill="none" />
<path d="M252.3,185.0 H268.5 V201.5 H274.8 V208.6 H275.6 V225.4 H278.6 V242.3" stroke="#3a9a3e" stroke-width="1.2" fill="none" />
<line x1="292" y1="185.9" x2="302" y2="185.9" stroke="#3a9a3e" stroke-width="1.2" />
<path d="M295.5,187.3 L297,184.3 L298.5,187.3 Z" stroke="none" stroke-width="1" fill="#3a9a3e" />
<text x="304.5" y="187.8" font-size="7.2" text-anchor="start" fill="#333" font-weight="normal"  style="">WT</text>
<line x1="292" y1="195.8" x2="302" y2="195.8" stroke="#ec9a2a" stroke-width="1.2" />
<path d="M295.5,197.2 L297,194.2 L298.5,197.2 Z" stroke="none" stroke-width="1" fill="#ec9a2a" />
<text x="305" y="197.9" font-size="7.2" text-anchor="start" fill="#333" font-weight="normal" textLength="26" lengthAdjust="spacingAndGlyphs"  style=""><tspan font-style="italic">Tifab</tspan> KO</text>
<text x="309.4" y="212.5" font-size="6" text-anchor="middle" fill="#333" font-weight="normal"  style="">*</text>
<rect x="28" y="165" width="51.400000000000006" height="51.599999999999994" fill="none" stroke="#1a1a1a" stroke-width="1.3"/>
<rect x="28" y="223" width="51.400000000000006" height="51.5" fill="none" stroke="#1a1a1a" stroke-width="1.3"/>
<rect x="47.3" y="194.2" width="20.299999999999997" height="22.400000000000006" fill="none" stroke="#aaa" stroke-width="0.9"/>
<rect x="47.3" y="252.6" width="20.299999999999997" height="21.900000000000006" fill="none" stroke="#aaa" stroke-width="0.9"/>
<text x="62" y="190.5" font-size="7.6" text-anchor="middle" fill="#222" font-weight="normal"  style="">41</text>
<text x="62.5" y="249.2" font-size="7.6" text-anchor="middle" fill="#222" font-weight="normal"  style="">16</text>
<rect x="37" y="186" width="3" height="20" fill="#e6e6e6"/>
<rect x="36.8" y="245" width="3" height="18" fill="#ececec"/>
<circle cx="44" cy="183" r="0.8" fill="#ccc"/>
<circle cx="48" cy="182.5" r="0.8" fill="#ccc"/>
<circle cx="52" cy="183.5" r="0.8" fill="#ccc"/>
<circle cx="56" cy="183" r="0.8" fill="#ccc"/>
<circle cx="59" cy="184" r="0.8" fill="#ccc"/>
<circle cx="41" cy="190" r="0.8" fill="#ccc"/>
<circle cx="44" cy="196" r="0.8" fill="#ccc"/>
<circle cx="41" cy="201" r="0.8" fill="#ccc"/>
<circle cx="44" cy="242" r="0.8" fill="#d0d0d0"/>
<circle cx="48" cy="242.5" r="0.8" fill="#d0d0d0"/>
<circle cx="52" cy="243" r="0.8" fill="#d0d0d0"/>
<circle cx="55" cy="242.5" r="0.8" fill="#d0d0d0"/>
<circle cx="58" cy="243.5" r="0.8" fill="#d0d0d0"/>
<circle cx="41" cy="250" r="0.8" fill="#d0d0d0"/>
<circle cx="42" cy="256" r="0.8" fill="#d0d0d0"/>
<ellipse cx="38.6" cy="183.5" rx="3.6" ry="5.2" fill="#bbb" opacity="0.45"/>
<ellipse cx="38.6" cy="182.7" rx="2.1" ry="2.7" fill="#999" stroke="#2a2a2a" stroke-width="1.3"/>
<ellipse cx="38.5" cy="240.8" rx="2.6" ry="4.6" fill="#999" opacity="0.45" transform="rotate(0,38.5,240.8)"/>
<ellipse cx="38.5" cy="240.8" rx="2.60" ry="4.60" fill="none" stroke="#aaaaaa" stroke-width="0.55" transform="rotate(0,38.5,240.8)"/>
<ellipse cx="38.5" cy="240.8" rx="1.30" ry="2.30" fill="none" stroke="#555555" stroke-width="0.55" transform="rotate(0,38.5,240.8)"/>
<ellipse cx="38.5" cy="240.8" rx="0.78" ry="1.75" fill="none" stroke="#333" stroke-width="1.0" transform="rotate(0,38.5,240.8)"/>
<circle cx="55.5" cy="202.3" r="5.6" fill="#d4d4d4" opacity="0.55"/>
<ellipse cx="55.8" cy="202" rx="4.0" ry="4.2" fill="#bbb" opacity="0.4" transform="rotate(0,55.8,202)"/>
<ellipse cx="55.8" cy="202" rx="4.00" ry="4.20" fill="none" stroke="#aaaaaa" stroke-width="0.55" transform="rotate(0,55.8,202)"/>
<ellipse cx="55.8" cy="202" rx="2.67" ry="2.80" fill="none" stroke="#7f7f7f" stroke-width="0.55" transform="rotate(0,55.8,202)"/>
<ellipse cx="55.8" cy="202" rx="1.33" ry="1.40" fill="none" stroke="#555555" stroke-width="0.55" transform="rotate(0,55.8,202)"/>
<ellipse cx="55.8" cy="202" rx="1.20" ry="1.60" fill="none" stroke="#666" stroke-width="0.9" transform="rotate(0,55.8,202)"/>
<circle cx="55.8" cy="260.7" r="3.6" fill="none" stroke="#999" stroke-width="1.1"/><circle cx="55.8" cy="260.7" r="4.6" fill="none" stroke="#ccc" stroke-width="0.8"/>
<line x1="66.3" y1="198.1" x2="77.4" y2="198.1" stroke="#1a1a1a" stroke-width="1.0" />
<path d="M75.9,195.7 L81.4,198.1 L75.9,200.5 L77.10000000000001,198.1 Z" stroke="none" stroke-width="1" fill="#111" />
<line x1="22.6" y1="281.2" x2="22.6" y2="212.3" stroke="#1a1a1a" stroke-width="1.0" />
<path d="M19.8,214.5 L22.6,208.3 L25.400000000000002,214.5 L22.6,213.10000000000002 Z" stroke="none" stroke-width="1" fill="#111" />
<line x1="22.6" y1="281.2" x2="40" y2="281.2" stroke="#1a1a1a" stroke-width="1.0" />
<path d="M37.0,278.4 L43.2,281.2 L37.0,284.0 L38.4,281.2 Z" stroke="none" stroke-width="1" fill="#111" />
<text transform="translate(21.8,195.8) rotate(-90)" x="0" y="3.0" font-size="8.6" text-anchor="middle" fill="#1a1a1a" textLength="19.2" lengthAdjust="spacingAndGlyphs">CD45.1</text>
<text transform="translate(10.5,191) rotate(-90)" x="0" y="2.74" font-size="7.6" text-anchor="middle" fill="#333" style="">WT</text>
<text transform="translate(10.5,249) rotate(-90)" x="0" y="2.74" font-size="7.6" text-anchor="middle" fill="#333" textLength="26" lengthAdjust="spacingAndGlyphs" style=""><tspan font-style="italic">Tifab</tspan> KO</text>
<text x="58.9" y="284.2" font-size="8.6" text-anchor="middle" fill="#1a1a1a" textLength="19.5" lengthAdjust="spacingAndGlyphs">CD45.2</text>
<rect x="91.6" y="164.6" width="52.0" height="52.0" fill="none" stroke="#1a1a1a" stroke-width="1.3"/>
<rect x="91.6" y="223" width="52.0" height="51.5" fill="none" stroke="#1a1a1a" stroke-width="1.3"/>
<rect x="112.4" y="176.3" width="21.19999999999999" height="24.69999999999999" fill="none" stroke="#aaa" stroke-width="0.9"/>
<rect x="112.6" y="235.2" width="20.80000000000001" height="24.5" fill="none" stroke="#aaa" stroke-width="0.9"/>
<text x="125.2" y="172.8" font-size="7.6" text-anchor="middle" fill="#222" font-weight="normal"  style="">99</text>
<text x="124.9" y="231.8" font-size="7.6" text-anchor="middle" fill="#222" font-weight="normal"  style="">99</text>
<ellipse cx="121.2" cy="190.6" rx="5.8" ry="7.4" fill="#aaa" opacity="0.4" transform="rotate(15,121.2,190.6)"/>
<ellipse cx="121.2" cy="190.6" rx="5.80" ry="7.40" fill="none" stroke="#aaaaaa" stroke-width="0.55" transform="rotate(15,121.2,190.6)"/>
<ellipse cx="121.2" cy="190.6" rx="4.35" ry="5.55" fill="none" stroke="#8d8d8d" stroke-width="0.55" transform="rotate(15,121.2,190.6)"/>
<ellipse cx="121.2" cy="190.6" rx="2.90" ry="3.70" fill="none" stroke="#717171" stroke-width="0.55" transform="rotate(15,121.2,190.6)"/>
<ellipse cx="121.2" cy="190.6" rx="1.45" ry="1.85" fill="none" stroke="#555555" stroke-width="0.55" transform="rotate(15,121.2,190.6)"/>
<ellipse cx="121.2" cy="190.6" rx="1.74" ry="2.81" fill="none" stroke="#2a2a2a" stroke-width="1.4" transform="rotate(15,121.2,190.6)"/>
<ellipse cx="121.2" cy="248.3" rx="5.6" ry="7.2" fill="#aaa" opacity="0.4" transform="rotate(15,121.2,248.3)"/>
<ellipse cx="121.2" cy="248.3" rx="5.60" ry="7.20" fill="none" stroke="#aaaaaa" stroke-width="0.55" transform="rotate(15,121.2,248.3)"/>
<ellipse cx="121.2" cy="248.3" rx="4.20" ry="5.40" fill="none" stroke="#8d8d8d" stroke-width="0.55" transform="rotate(15,121.2,248.3)"/>
<ellipse cx="121.2" cy="248.3" rx="2.80" ry="3.60" fill="none" stroke="#717171" stroke-width="0.55" transform="rotate(15,121.2,248.3)"/>
<ellipse cx="121.2" cy="248.3" rx="1.40" ry="1.80" fill="none" stroke="#555555" stroke-width="0.55" transform="rotate(15,121.2,248.3)"/>
<ellipse cx="121.2" cy="248.3" rx="1.68" ry="2.74" fill="none" stroke="#2a2a2a" stroke-width="1.4" transform="rotate(15,121.2,248.3)"/>
<line x1="130.4" y1="184.6" x2="140.6" y2="184.6" stroke="#1a1a1a" stroke-width="1.0" />
<path d="M139.1,182.2 L144.6,184.6 L139.1,187.0 L140.29999999999998,184.6 Z" stroke="none" stroke-width="1" fill="#111" />
<line x1="87.3" y1="282" x2="87.3" y2="212.4" stroke="#1a1a1a" stroke-width="1.0" />
<path d="M84.5,214.6 L87.3,208.4 L90.1,214.6 L87.3,213.20000000000002 Z" stroke="none" stroke-width="1" fill="#111" />
<line x1="87.3" y1="282" x2="105" y2="282" stroke="#1a1a1a" stroke-width="1.0" />
<path d="M102.6,279.2 L108.8,282 L102.6,284.8 L104.0,282 Z" stroke="none" stroke-width="1" fill="#111" />
<text transform="translate(85.0,199.6) rotate(-90)" x="0" y="3.0" font-size="8.6" text-anchor="middle" fill="#1a1a1a" textLength="10.5" lengthAdjust="spacingAndGlyphs">GFP</text>
<text x="122.4" y="284.7" font-size="8.6" text-anchor="middle" fill="#1a1a1a" textLength="19" lengthAdjust="spacingAndGlyphs">CD45.2</text>
<rect x="155.8" y="164.6" width="52.19999999999999" height="52.0" fill="none" stroke="#1a1a1a" stroke-width="1.3"/>
<rect x="155.9" y="223" width="52.400000000000006" height="51.5" fill="none" stroke="#1a1a1a" stroke-width="1.3"/>
<line x1="169.3" y1="164.6" x2="169.3" y2="216.6" stroke="#444" stroke-width="0.8" />
<line x1="155.8" y1="192.2" x2="208" y2="192.2" stroke="#444" stroke-width="0.8" />
<line x1="169.4" y1="223" x2="169.4" y2="274.5" stroke="#444" stroke-width="0.8" />
<line x1="155.9" y1="251.6" x2="208.3" y2="251.6" stroke="#444" stroke-width="0.8" />
<text x="157.5" y="173.1" font-size="7.6" text-anchor="start" fill="#222" font-weight="normal"  style="">52</text>
<text x="203.6" y="173.1" font-size="7.6" text-anchor="end" fill="#222" font-weight="normal"  style="">39</text>
<text x="157.5" y="214.6" font-size="7.6" text-anchor="start" fill="#222" font-weight="normal"  style="">6.2</text>
<text x="205" y="214.6" font-size="7.6" text-anchor="end" fill="#222" font-weight="normal"  style="">3.4</text>
<text x="157.5" y="231.0" font-size="7.6" text-anchor="start" fill="#222" font-weight="normal"  style="">79</text>
<text x="202.8" y="231.0" font-size="7.6" text-anchor="end" fill="#222" font-weight="normal"  style="">13</text>
<text x="157.5" y="272.0" font-size="7.6" text-anchor="start" fill="#222" font-weight="normal"  style="">6.3</text>
<text x="205" y="272.0" font-size="7.6" text-anchor="end" fill="#222" font-weight="normal"  style="">1.8</text>
<ellipse cx="174" cy="186.5" rx="9.5" ry="5" fill="#c8c8c8" opacity="0.45"/>
<ellipse cx="166" cy="188" rx="4.5" ry="6" fill="#bbb" opacity="0.45"/>
<ellipse cx="165.3" cy="187.1" rx="2.2" ry="3.4" fill="#aaa" stroke="#333" stroke-width="1.4"/>
<circle cx="172" cy="184" r="0.9" fill="#bbb"/>
<circle cx="176" cy="185" r="0.9" fill="#bbb"/>
<circle cx="180" cy="186" r="0.9" fill="#bbb"/>
<circle cx="184" cy="185.5" r="0.9" fill="#bbb"/>
<circle cx="178" cy="189" r="0.9" fill="#bbb"/>
<circle cx="170" cy="193" r="0.9" fill="#bbb"/>
<circle cx="166" cy="196" r="0.9" fill="#bbb"/>
<ellipse cx="170" cy="245" rx="9" ry="5.5" fill="#ddd" opacity="0.5"/>
<ellipse cx="164" cy="244.5" rx="3.8" ry="5.2" fill="#bbb" opacity="0.35" transform="rotate(0,164,244.5)"/>
<ellipse cx="164" cy="244.5" rx="3.80" ry="5.20" fill="none" stroke="#aaaaaa" stroke-width="0.55" transform="rotate(0,164,244.5)"/>
<ellipse cx="164" cy="244.5" rx="2.85" ry="3.90" fill="none" stroke="#8d8d8d" stroke-width="0.55" transform="rotate(0,164,244.5)"/>
<ellipse cx="164" cy="244.5" rx="1.90" ry="2.60" fill="none" stroke="#717171" stroke-width="0.55" transform="rotate(0,164,244.5)"/>
<ellipse cx="164" cy="244.5" rx="0.95" ry="1.30" fill="none" stroke="#555555" stroke-width="0.55" transform="rotate(0,164,244.5)"/>
<ellipse cx="164" cy="244.5" rx="1.14" ry="1.98" fill="none" stroke="#666" stroke-width="0.8" transform="rotate(0,164,244.5)"/>
<circle cx="172" cy="243" r="0.9" fill="#ccc"/>
<circle cx="176" cy="244" r="0.9" fill="#ccc"/>
<circle cx="170" cy="249" r="0.9" fill="#ccc"/>
<circle cx="166" cy="252" r="0.9" fill="#ccc"/>
<line x1="151.0" y1="282" x2="151.0" y2="212.3" stroke="#1a1a1a" stroke-width="1.0" />
<path d="M148.2,214.5 L151.0,208.3 L153.8,214.5 L151.0,213.10000000000002 Z" stroke="none" stroke-width="1" fill="#111" />
<line x1="151.0" y1="282" x2="168" y2="282" stroke="#1a1a1a" stroke-width="1.0" />
<path d="M167.0,279.2 L173.2,282 L167.0,284.8 L168.4,282 Z" stroke="none" stroke-width="1" fill="#111" />
<text transform="translate(150.3,197) rotate(-90)" x="0" y="3.0" font-size="8.6" text-anchor="middle" fill="#1a1a1a" textLength="16.3" lengthAdjust="spacingAndGlyphs">CD11b</text>
<text x="181.3" y="284.7" font-size="8.6" text-anchor="middle" fill="#1a1a1a" textLength="11" lengthAdjust="spacingAndGlyphs">cKit</text>
<line x1="41.2" y1="317.2" x2="41.2" y2="376.1" stroke="#222" stroke-width="1.1" />
<line x1="38.2" y1="318.7" x2="41.2" y2="318.7" stroke="#222" stroke-width="1" />
<text x="35.800000000000004" y="321.436" font-size="7.6" text-anchor="end" fill="#333" font-weight="normal"  style="">50</text>
<line x1="38.2" y1="330.08" x2="41.2" y2="330.08" stroke="#222" stroke-width="1" />
<text x="35.800000000000004" y="332.816" font-size="7.6" text-anchor="end" fill="#333" font-weight="normal"  style="">40</text>
<line x1="38.2" y1="341.46" x2="41.2" y2="341.46" stroke="#222" stroke-width="1" />
<text x="35.800000000000004" y="344.19599999999997" font-size="7.6" text-anchor="end" fill="#333" font-weight="normal"  style="">30</text>
<line x1="38.2" y1="352.84000000000003" x2="41.2" y2="352.84000000000003" stroke="#222" stroke-width="1" />
<text x="35.800000000000004" y="355.576" font-size="7.6" text-anchor="end" fill="#333" font-weight="normal"  style="">20</text>
<line x1="38.2" y1="364.22" x2="41.2" y2="364.22" stroke="#222" stroke-width="1" />
<text x="35.800000000000004" y="366.956" font-size="7.6" text-anchor="end" fill="#333" font-weight="normal"  style="">10</text>
<line x1="38.2" y1="375.6" x2="41.2" y2="375.6" stroke="#222" stroke-width="1" />
<text x="35.800000000000004" y="378.336" font-size="7.6" text-anchor="end" fill="#333" font-weight="normal"  style="">0</text>
<rect x="47.3" y="323.8" width="10.300000000000004" height="51.80000000000001" fill="#a7d49e"/>
<rect x="63.2" y="330.6" width="10.599999999999994" height="45.0" fill="#fcc890"/>
<line x1="40.7" y1="375.6" x2="79.2" y2="375.6" stroke="#222" stroke-width="1.1" />
<line x1="52.45" y1="375.6" x2="52.45" y2="378.40000000000003" stroke="#222" stroke-width="1" />
<line x1="68.5" y1="375.6" x2="68.5" y2="378.40000000000003" stroke="#222" stroke-width="1" />
<circle cx="49.30" cy="323.40" r="1.6" fill="#2f9a3a"/>
<circle cx="52.40" cy="323.00" r="1.6" fill="#2f9a3a"/>
<circle cx="55.40" cy="323.50" r="1.6" fill="#2f9a3a"/>
<circle cx="51.00" cy="324.40" r="1.6" fill="#2f9a3a"/>
<circle cx="54.00" cy="324.20" r="1.6" fill="#2f9a3a"/>
<circle cx="66.00" cy="330.00" r="1.6" fill="#e8921f"/>
<circle cx="68.50" cy="333.00" r="1.6" fill="#e8921f"/>
<circle cx="71.50" cy="332.00" r="1.6" fill="#e8921f"/>
<circle cx="66.50" cy="334.00" r="1.6" fill="#e8921f"/>
<text x="68.3" y="329.59999999999997" font-size="6" text-anchor="middle" fill="#333" font-weight="normal"  style="">*</text>
<text transform="translate(55.650000000000006,385.6) rotate(-45)" font-size="7.3" text-anchor="end" fill="#2a2a2a">WT</text>
<text transform="translate(71.1,384.90000000000003) rotate(-45)" font-size="7.3" text-anchor="end" fill="#2a2a2a" textLength="26.5" lengthAdjust="spacingAndGlyphs"><tspan font-style="italic">Tifab</tspan> KO</text>
<text transform="translate(10.2,345.8) rotate(-90)" x="0" y="2.81" font-size="7.8" text-anchor="middle" fill="#333" textLength="43" lengthAdjust="spacingAndGlyphs" style="">M3-pyruvic acid</text>
<text transform="translate(19.0,346.8) rotate(-90)" x="0" y="2.81" font-size="7.8" text-anchor="middle" fill="#333" textLength="35" lengthAdjust="spacingAndGlyphs" style="">labeling (%)</text>
<line x1="124.6" y1="317.7" x2="124.6" y2="376.1" stroke="#222" stroke-width="1.1" />
<line x1="121.6" y1="319.2" x2="124.6" y2="319.2" stroke="#222" stroke-width="1" />
<text x="119.19999999999999" y="321.936" font-size="7.6" text-anchor="end" fill="#333" font-weight="normal"  style="">15</text>
<line x1="121.6" y1="338.0" x2="124.6" y2="338.0" stroke="#222" stroke-width="1" />
<text x="119.19999999999999" y="340.736" font-size="7.6" text-anchor="end" fill="#333" font-weight="normal"  style="">10</text>
<line x1="121.6" y1="356.8" x2="124.6" y2="356.8" stroke="#222" stroke-width="1" />
<text x="119.19999999999999" y="359.536" font-size="7.6" text-anchor="end" fill="#333" font-weight="normal"  style="">5</text>
<line x1="121.6" y1="375.6" x2="124.6" y2="375.6" stroke="#222" stroke-width="1" />
<text x="119.19999999999999" y="378.336" font-size="7.6" text-anchor="end" fill="#333" font-weight="normal"  style="">0</text>
<rect x="130.1" y="325.8" width="10.900000000000006" height="49.80000000000001" fill="#a7d49e"/>
<rect x="146" y="334.6" width="11.400000000000006" height="41.0" fill="#fcc890"/>
<line x1="124.1" y1="375.6" x2="162" y2="375.6" stroke="#222" stroke-width="1.1" />
<line x1="135.55" y1="375.6" x2="135.55" y2="378.40000000000003" stroke="#222" stroke-width="1" />
<line x1="151.7" y1="375.6" x2="151.7" y2="378.40000000000003" stroke="#222" stroke-width="1" />
<circle cx="132.30" cy="322.70" r="1.6" fill="#2f9a3a"/>
<circle cx="135.60" cy="326.50" r="1.6" fill="#2f9a3a"/>
<circle cx="138.50" cy="326.50" r="1.6" fill="#2f9a3a"/>
<line x1="151.5" y1="327.6" x2="151.5" y2="342" stroke="#d98a25" stroke-width="0.8" />
<line x1="150.2" y1="327.6" x2="152.8" y2="327.6" stroke="#d98a25" stroke-width="0.7" />
<circle cx="148.90" cy="330.40" r="1.6" fill="#e8921f"/>
<circle cx="154.10" cy="330.40" r="1.6" fill="#e8921f"/>
<circle cx="151.50" cy="341.90" r="1.6" fill="#e8921f"/>
<text x="151.5" y="327.2" font-size="6" text-anchor="middle" fill="#333" font-weight="normal"  style="">*</text>
<text transform="translate(138.75,385.6) rotate(-45)" font-size="7.3" text-anchor="end" fill="#2a2a2a">WT</text>
<text transform="translate(154.29999999999998,384.90000000000003) rotate(-45)" font-size="7.3" text-anchor="end" fill="#2a2a2a" textLength="26.5" lengthAdjust="spacingAndGlyphs"><tspan font-style="italic">Tifab</tspan> KO</text>
<text transform="translate(94.8,345.8) rotate(-90)" x="0" y="2.81" font-size="7.8" text-anchor="middle" fill="#333" textLength="40.7" lengthAdjust="spacingAndGlyphs" style="">M3-lactic acid</text>
<text transform="translate(102.9,346.8) rotate(-90)" x="0" y="2.81" font-size="7.8" text-anchor="middle" fill="#333" textLength="35" lengthAdjust="spacingAndGlyphs" style="">labeling (%)</text>
<line x1="208" y1="317.3" x2="208" y2="376.1" stroke="#222" stroke-width="1.1" />
<line x1="205.0" y1="318.8" x2="208" y2="318.8" stroke="#222" stroke-width="1" />
<text x="202.6" y="321.536" font-size="7.6" text-anchor="end" fill="#333" font-weight="normal"  style="">30</text>
<line x1="205.0" y1="337.73333333333335" x2="208" y2="337.73333333333335" stroke="#222" stroke-width="1" />
<text x="202.6" y="340.46933333333334" font-size="7.6" text-anchor="end" fill="#333" font-weight="normal"  style="">20</text>
<line x1="205.0" y1="356.6666666666667" x2="208" y2="356.6666666666667" stroke="#222" stroke-width="1" />
<text x="202.6" y="359.4026666666667" font-size="7.6" text-anchor="end" fill="#333" font-weight="normal"  style="">10</text>
<line x1="205.0" y1="375.6" x2="208" y2="375.6" stroke="#222" stroke-width="1" />
<text x="202.6" y="378.336" font-size="7.6" text-anchor="end" fill="#333" font-weight="normal"  style="">0</text>
<rect x="213.2" y="326" width="10.400000000000006" height="49.60000000000002" fill="#a7d49e"/>
<rect x="229.8" y="330" width="10.399999999999977" height="45.60000000000002" fill="#fcc890"/>
<line x1="207.5" y1="375.6" x2="245.8" y2="375.6" stroke="#222" stroke-width="1.1" />
<line x1="218.39999999999998" y1="375.6" x2="218.39999999999998" y2="378.40000000000003" stroke="#222" stroke-width="1" />
<line x1="235.0" y1="375.6" x2="235.0" y2="378.40000000000003" stroke="#222" stroke-width="1" />
<circle cx="215.00" cy="326.40" r="1.6" fill="#2f9a3a"/>
<circle cx="218.60" cy="326.40" r="1.6" fill="#2f9a3a"/>
<circle cx="222.00" cy="326.40" r="1.6" fill="#2f9a3a"/>
<circle cx="232.00" cy="330.60" r="1.6" fill="#e8921f"/>
<circle cx="235.00" cy="331.00" r="1.6" fill="#e8921f"/>
<circle cx="238.00" cy="330.60" r="1.6" fill="#e8921f"/>
<circle cx="233.50" cy="330.00" r="1.6" fill="#e8921f"/>
<text x="234.9" y="328.9" font-size="6" text-anchor="middle" fill="#333" font-weight="normal"  style="">*</text>
<text transform="translate(221.59999999999997,385.6) rotate(-45)" font-size="7.3" text-anchor="end" fill="#2a2a2a">WT</text>
<text transform="translate(237.6,384.90000000000003) rotate(-45)" font-size="7.3" text-anchor="end" fill="#2a2a2a" textLength="26.5" lengthAdjust="spacingAndGlyphs"><tspan font-style="italic">Tifab</tspan> KO</text>
<text transform="translate(175.9,345.8) rotate(-90)" x="0" y="2.81" font-size="7.8" text-anchor="middle" fill="#333" textLength="38.6" lengthAdjust="spacingAndGlyphs" style="">M2-citric acid</text>
<text transform="translate(185.5,346.8) rotate(-90)" x="0" y="2.81" font-size="7.8" text-anchor="middle" fill="#333" textLength="35" lengthAdjust="spacingAndGlyphs" style="">labeling (%)</text>
<line x1="291.2" y1="316.9" x2="291.2" y2="376.1" stroke="#222" stroke-width="1.1" />
<line x1="288.2" y1="318.4" x2="291.2" y2="318.4" stroke="#222" stroke-width="1" />
<text x="285.8" y="321.13599999999997" font-size="7.6" text-anchor="end" fill="#333" font-weight="normal"  style="">25</text>
<line x1="288.2" y1="329.84" x2="291.2" y2="329.84" stroke="#222" stroke-width="1" />
<text x="285.8" y="332.57599999999996" font-size="7.6" text-anchor="end" fill="#333" font-weight="normal"  style="">20</text>
<line x1="288.2" y1="341.28" x2="291.2" y2="341.28" stroke="#222" stroke-width="1" />
<text x="285.8" y="344.01599999999996" font-size="7.6" text-anchor="end" fill="#333" font-weight="normal"  style="">15</text>
<line x1="288.2" y1="352.72" x2="291.2" y2="352.72" stroke="#222" stroke-width="1" />
<text x="285.8" y="355.456" font-size="7.6" text-anchor="end" fill="#333" font-weight="normal"  style="">10</text>
<line x1="288.2" y1="364.16" x2="291.2" y2="364.16" stroke="#222" stroke-width="1" />
<text x="285.8" y="366.896" font-size="7.6" text-anchor="end" fill="#333" font-weight="normal"  style="">5</text>
<line x1="288.2" y1="375.6" x2="291.2" y2="375.6" stroke="#222" stroke-width="1" />
<text x="285.8" y="378.336" font-size="7.6" text-anchor="end" fill="#333" font-weight="normal"  style="">0</text>
<rect x="296.6" y="328.8" width="10.399999999999977" height="46.80000000000001" fill="#a7d49e"/>
<rect x="312.8" y="334" width="11.0" height="41.60000000000002" fill="#fcc890"/>
<line x1="290.7" y1="375.6" x2="328.5" y2="375.6" stroke="#222" stroke-width="1.1" />
<line x1="301.8" y1="375.6" x2="301.8" y2="378.40000000000003" stroke="#222" stroke-width="1" />
<line x1="318.3" y1="375.6" x2="318.3" y2="378.40000000000003" stroke="#222" stroke-width="1" />
<circle cx="299.20" cy="327.80" r="1.6" fill="#2f9a3a"/>
<circle cx="302.30" cy="330.00" r="1.6" fill="#2f9a3a"/>
<circle cx="305.20" cy="330.20" r="1.6" fill="#2f9a3a"/>
<circle cx="315.00" cy="334.50" r="1.6" fill="#e8921f"/>
<circle cx="318.00" cy="334.50" r="1.6" fill="#e8921f"/>
<circle cx="321.00" cy="334.50" r="1.6" fill="#e8921f"/>
<text x="318.4" y="332.7" font-size="6" text-anchor="middle" fill="#333" font-weight="normal"  style="">*</text>
<text transform="translate(305.0,385.6) rotate(-45)" font-size="7.3" text-anchor="end" fill="#2a2a2a">WT</text>
<text transform="translate(320.90000000000003,384.90000000000003) rotate(-45)" font-size="7.3" text-anchor="end" fill="#2a2a2a" textLength="26.5" lengthAdjust="spacingAndGlyphs"><tspan font-style="italic">Tifab</tspan> KO</text>
<text transform="translate(260.1,345.8) rotate(-90)" x="0" y="2.81" font-size="7.8" text-anchor="middle" fill="#333" textLength="46.4" lengthAdjust="spacingAndGlyphs" style="">M2-succinic acid</text>
<text transform="translate(269.3,346.8) rotate(-90)" x="0" y="2.81" font-size="7.8" text-anchor="middle" fill="#333" textLength="35" lengthAdjust="spacingAndGlyphs" style="">labeling (%)</text>
<defs><filter id="bb" x="-20%" y="-100%" width="140%" height="300%"><feGaussianBlur stdDeviation="0.45"/></filter></defs>
<text x="421.2" y="317.59999999999997" font-size="7.6" text-anchor="start" fill="#2a2a2a" font-weight="normal"  style="">NDUFA9</text>
<rect x="455.9" y="309.1" width="34.6" height="11.399999999999977" fill="#fbfbfb" stroke="#3a3a3a" stroke-width="1.1"/>
<rect x="458.5" y="313.60" width="12.10" height="3.2" rx="1.6" fill="#252525" filter="url(#bb)"/>
<rect x="473.4" y="313.90" width="12.60" height="2.6" rx="1.3" fill="#9a9a9a" filter="url(#bb)"/>
<text x="421.2" y="330.79999999999995" font-size="7.6" text-anchor="start" fill="#2a2a2a" font-weight="normal"  style="">SDHA</text>
<rect x="455.9" y="322.3" width="34.6" height="11.399999999999977" fill="#fbfbfb" stroke="#3a3a3a" stroke-width="1.1"/>
<rect x="457.9" y="327.00" width="11.10" height="2.8" rx="1.4" fill="#444" filter="url(#bb)"/>
<rect x="474.5" y="327.20" width="12.90" height="2.4" rx="1.2" fill="#c2c2c2" filter="url(#bb)"/>
<text x="421.2" y="344.19999999999993" font-size="7.6" text-anchor="start" fill="#2a2a2a" font-weight="normal"  style="">SDHC</text>
<rect x="455.9" y="335.6" width="34.6" height="11.599999999999966" fill="#fbfbfb" stroke="#3a3a3a" stroke-width="1.1"/>
<rect x="457.9" y="340.10" width="13.90" height="3.4" rx="1.7" fill="#1a1a1a" filter="url(#bb)"/>
<rect x="474" y="340.50" width="13.40" height="2.6" rx="1.3" fill="#9c9c9c" filter="url(#bb)"/>
<text x="421.2" y="357.4" font-size="7.6" text-anchor="start" fill="#2a2a2a" font-weight="normal"  style="">UQCRC2</text>
<rect x="455.9" y="349.1" width="34.6" height="11.0" fill="#fbfbfb" stroke="#3a3a3a" stroke-width="1.1"/>
<rect x="459" y="353.50" width="10.50" height="3.0" rx="1.5" fill="#222" filter="url(#bb)"/>
<rect x="474" y="353.80" width="10.50" height="2.4" rx="1.2" fill="#cacaca" filter="url(#bb)"/>
<text x="421.2" y="370.99999999999994" font-size="7.6" text-anchor="start" fill="#2a2a2a" font-weight="normal"  style="">MTCO1</text>
<rect x="455.9" y="362.5" width="34.6" height="11.399999999999977" fill="#f2f2f2" stroke="#3a3a3a" stroke-width="1.1"/>
<rect x="458.5" y="367.10" width="12.00" height="3.0" rx="1.5" fill="#3c3c3c" filter="url(#bb)"/>
<rect x="474" y="367.30" width="12.50" height="2.6" rx="1.3" fill="#aaa" filter="url(#bb)"/>
<text x="421.2" y="384.09999999999997" font-size="7.6" text-anchor="start" fill="#2a2a2a" font-weight="normal"  style="">ATP5B</text>
<rect x="455.9" y="375.8" width="34.6" height="11.0" fill="#fbfbfb" stroke="#3a3a3a" stroke-width="1.1"/>
<rect x="458.5" y="380.10" width="13.00" height="3.2" rx="1.6" fill="#1e1e1e" filter="url(#bb)"/>
<rect x="474" y="380.30" width="13.00" height="2.8" rx="1.4" fill="#858585" filter="url(#bb)"/>
<text x="421.2" y="397.59999999999997" font-size="7.6" text-anchor="start" fill="#2a2a2a" font-weight="normal"  style="">TIFAB</text>
<rect x="455.9" y="389.1" width="34.6" height="11.399999999999977" fill="#f2f2f2" stroke="#3a3a3a" stroke-width="1.1"/>
<rect x="458.5" y="393.90" width="12.00" height="2.6" rx="1.3" fill="#686868" filter="url(#bb)"/>
<rect x="474" y="394.00" width="13.00" height="2.4" rx="1.2" fill="#cfcfcf" filter="url(#bb)"/>
<text x="421.2" y="410.69999999999993" font-size="7.6" text-anchor="start" fill="#2a2a2a" font-weight="normal"  style="">ACTIN</text>
<rect x="455.9" y="402.5" width="34.6" height="10.800000000000011" fill="#fbfbfb" stroke="#3a3a3a" stroke-width="1.1"/>
<rect x="458.5" y="406.80" width="12.00" height="3.0" rx="1.5" fill="#1a1a1a" filter="url(#bb)"/>
<rect x="473" y="406.80" width="13.50" height="3.0" rx="1.5" fill="#252525" filter="url(#bb)"/>
<text x="378.6" y="317.6" font-size="7.7" text-anchor="start" fill="#383838" font-weight="normal" textLength="29.8" lengthAdjust="spacingAndGlyphs"  style="">ComplexI</text>
<text x="378.6" y="337.5" font-size="7.7" text-anchor="start" fill="#383838" font-weight="normal" textLength="31.8" lengthAdjust="spacingAndGlyphs"  style="">ComplexII</text>
<text x="378.6" y="358.3" font-size="7.7" text-anchor="start" fill="#383838" font-weight="normal" textLength="33.8" lengthAdjust="spacingAndGlyphs"  style="">ComplexIII</text>
<text x="378.6" y="371.6" font-size="7.7" text-anchor="start" fill="#383838" font-weight="normal" textLength="33.2" lengthAdjust="spacingAndGlyphs"  style="">ComplexIV</text>
<text x="378.6" y="384.6" font-size="7.7" text-anchor="start" fill="#383838" font-weight="normal" textLength="31.2" lengthAdjust="spacingAndGlyphs"  style="">ComplexV</text>
<line x1="416.6" y1="327.4" x2="416.6" y2="339.2" stroke="#222" stroke-width="1" />
<text transform="translate(464.0,306.8) rotate(-45)" font-size="7.6" text-anchor="start" fill="#2a2a2a">WT</text>
<text transform="translate(480.8,306.6) rotate(-45)" font-size="7.6" text-anchor="start" fill="#2a2a2a" textLength="26" lengthAdjust="spacingAndGlyphs"><tspan font-style="italic">Tifab</tspan> KO</text>
</svg>
<svg width="520" height="420" viewBox="0 0 520 420">
<rect x="0.6" y="0.55" width="518.75" height="418.65" fill="none" stroke="#636363" stroke-width="1.2"/>
</svg></div></body></html>
